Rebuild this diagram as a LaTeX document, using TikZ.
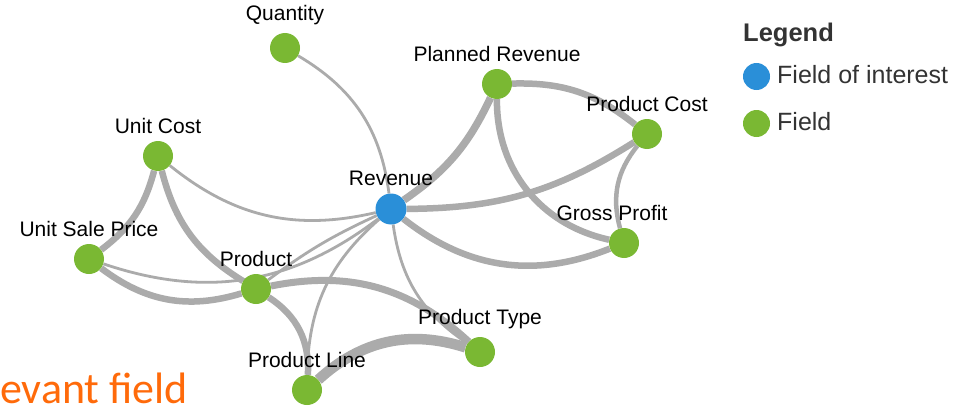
\documentclass[tikz,border=0pt]{standalone}
\usepackage{fontspec}
\setmainfont{Liberation Sans}
\newfontfamily\slidefont{Carlito}
\usetikzlibrary{positioning,backgrounds}
\definecolor{fieldgreen}{HTML}{7AB833}
\definecolor{focusblue}{HTML}{2A8FD8}
\definecolor{linkgray}{HTML}{ABABAB}
\definecolor{slideorange}{HTML}{FF6A0A}
\tikzset{
  field/.style={circle, fill=fieldgreen, minimum size=30pt, inner sep=0pt,
    label={[font=\fontsize{21}{24}\selectfont, yshift=4pt]above:#1}},
  focus/.style={field=#1, fill=focusblue, minimum size=31pt},
  link/.style={draw=linkgray, line width=2.8pt},
  midlink/.style={draw=linkgray, line width=4.5pt},
  fatlink/.style={draw=linkgray, line width=6.5pt},
  hugelink/.style={draw=linkgray, line width=10.5pt},
  keydot/.style={circle, minimum size=27pt, inner sep=0pt},
  keytext/.style={anchor=base west, inner sep=0pt, font=\fontsize{25}{30}\selectfont}}

\begin{document}
\begin{tikzpicture}[x=1pt, y=1pt]
\useasboundingbox (0,0) rectangle (961,-412);
% graph
\node[field=Quantity] (qty) at (285,-48) {};
\node[field=Planned Revenue] (plan) at (497,-84) {};
\node[field=Product Cost] (pcost) at (647,-134) {};
\node[field=Unit Cost] (ucost) at (158,-156) {};
\node[focus=Revenue] (rev) at (391,-209) {};
\node[circle, fill=fieldgreen, minimum size=30pt, inner sep=0pt,
  label={[xshift=-12pt, yshift=4pt, font=\fontsize{21}{24}\selectfont]above:Gross Profit}] (gross) at (624,-243) {};
\node[field=Unit Sale Price] (usp) at (89,-259) {};
\node[field=Product] (prod) at (256,-289) {};
\node[field=Product Type] (ptype) at (480,-352) {};
\node[field=Product Line] (pline) at (307,-390) {};
\begin{scope}[on background layer]
\draw[link] (qty) to[bend left=26] (rev);
\draw[link] (ucost) to[bend right=26] (rev);
\draw[link] (usp) to[bend right=28] (rev);
\draw[link] (prod) to[bend left=6] (rev);
\draw[link] (rev) to[bend right=24] (pline);
\draw[link] (rev) to[bend right=24] (ptype);
\draw[fatlink] (ucost) to[bend left=19] (usp);
\draw[fatlink] (ucost) to[bend right=22] (prod);
\draw[fatlink] (usp) to[bend right=27] (prod);
\draw[fatlink, line width=7pt] (prod) to[bend left=27] (ptype);
\draw[fatlink] (prod) to[bend left=30] (pline);
\draw[hugelink] (pline) to[bend left=30] (ptype);
\draw[fatlink, line width=7.5pt] (rev) to[bend right=15] (plan);
\draw[fatlink] (rev) to[bend right=16] (pcost);
\draw[fatlink] (rev) to[bend right=30] (gross);
\draw[fatlink] (plan) to[bend left=20] (pcost);
\draw[fatlink] (plan) to[bend right=39] (gross);
\draw[midlink] (pcost) to[bend right=27] (gross);
\end{scope}
% legend
\node[anchor=base west, inner sep=0pt, font=\bfseries\fontsize{25.5}{30}\selectfont, text=black!80] (legend) at (743,-41.5) {Legend};
\node[keydot, fill=focusblue] (keyfocus) at (756.5,-76.5) {};
\node[keytext, text=black!80] (keyfocustxt) at (777,-83.5) {Field of interest};
\node[keydot, fill=fieldgreen] (keyfield) at (756.5,-123.5) {};
\node[keytext, text=black!80] (keyfieldtxt) at (777,-130.5) {Field};
% slide text behind the graph
\node[anchor=base west, inner sep=0pt, text=slideorange, font=\slidefont\fontsize{44}{50}\selectfont] (slide) at (0,-403) {evant field};
\end{tikzpicture}
\end{document}
